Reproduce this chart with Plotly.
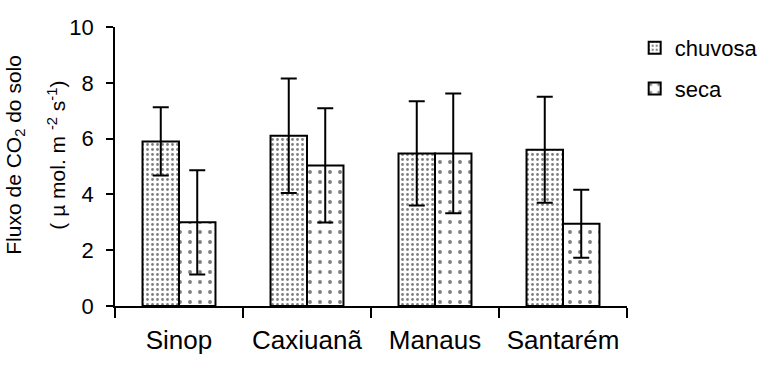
import plotly.graph_objects as go

categories = ["Sinop", "Caxiuanã", "Manaus", "Santarém"]
chuvosa = [5.90, 6.10, 5.47, 5.60]
chuvosa_err = [1.22, 2.05, 1.87, 1.90]
seca = [3.00, 5.04, 5.47, 2.95]
seca_err = [1.87, 2.05, 2.15, 1.22]
y_ticks = [0, 2, 4, 6, 8, 10]

FONT = "Liberation Sans, Arial, sans-serif"

fig = go.Figure()
fig.add_trace(go.Bar(
    name="chuvosa", x=categories, y=chuvosa, legendgroup="a",
    marker=dict(color="white", line=dict(color="black", width=2),
                pattern=dict(shape=".", size=5, solidity=0.25, fgcolor="black", bgcolor="white", fillmode="overlay")),
    error_y=dict(type="data", array=chuvosa_err, visible=True, color="black", thickness=2, width=8),
))
fig.add_trace(go.Bar(
    name="seca", x=categories, y=seca, legendgroup="b",
    marker=dict(color="white", line=dict(color="black", width=2),
                pattern=dict(shape=".", size=10, solidity=0.12, fgcolor="black", bgcolor="white", fillmode="overlay")),
    error_y=dict(type="data", array=seca_err, visible=True, color="black", thickness=2, width=8),
))

fig.update_layout(
    width=758, height=367,
    margin=dict(l=115, r=131, t=27, b=61, autoexpand=False),
    paper_bgcolor="white", plot_bgcolor="white",
    font=dict(family=FONT, color="black", size=21),
    barmode="group", bargap=0.43, bargroupgap=0,
    showlegend=True,
    legend=dict(x=1.015, y=1.0, xanchor="left", yanchor="top", font=dict(size=22),
                tracegroupgap=9, bgcolor="rgba(0,0,0,0)", itemwidth=30),
)
fig.update_xaxes(
    type="category", showline=True, linecolor="black", linewidth=1.5,
    ticks="outside", tickson="boundaries", ticklen=10, tickcolor="black", tickwidth=1.5,
    tickfont=dict(size=26), tickangle=0, ticklabelstandoff=10, automargin=False,
    showgrid=False, zeroline=False,
)
fig.update_yaxes(
    range=[0, 10], tickvals=y_ticks, showline=True, linecolor="black", linewidth=1.5,
    ticks="outside", ticklen=7, tickcolor="black", tickwidth=1.5,
    tickfont=dict(size=22), ticklabelstandoff=8, automargin=False,
    showgrid=False, zeroline=False,
)

fig.add_annotation(text="Fluxo de CO<sub>2</sub> do solo", xref="paper", yref="paper",
                   x=-0.196, y=0.541, xanchor="center", yanchor="middle", textangle=-90,
                   showarrow=False, font=dict(size=21))
fig.add_annotation(text="( µ mol. m <sup>-2</sup> s<sup>-1</sup>)", xref="paper", yref="paper",
                   x=-0.114, y=0.541, xanchor="center", yanchor="middle", textangle=-90,
                   showarrow=False, font=dict(size=21))

fig.write_html("out.html")
